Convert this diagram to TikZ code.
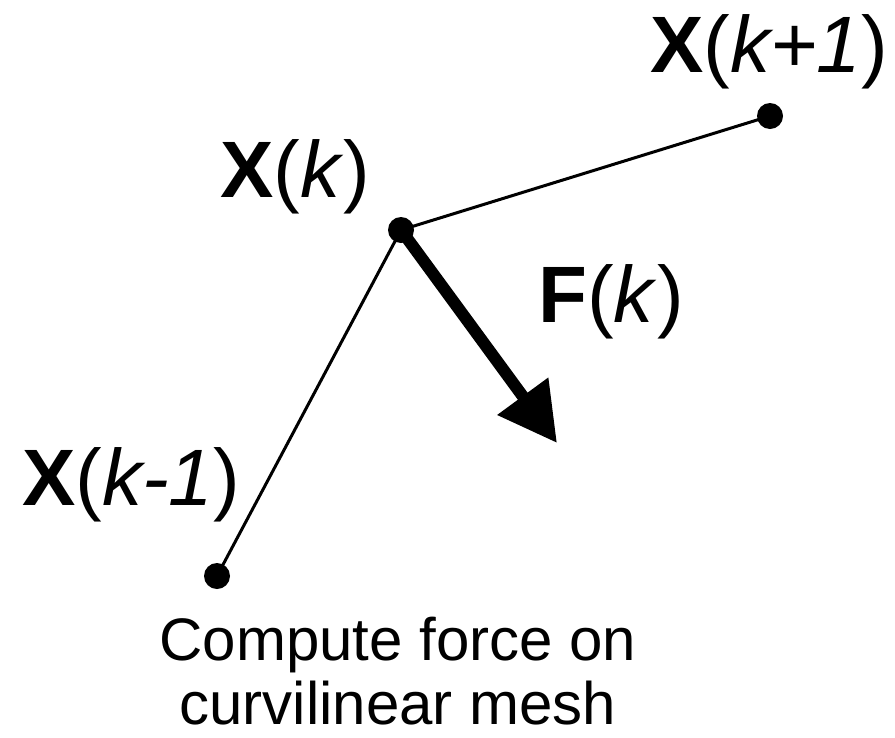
\documentclass[tikz,border=0pt]{standalone}
\usepackage{fontspec}
\setmainfont{Liberation Sans}
\usetikzlibrary{arrows.meta}
\begin{document}
\begin{tikzpicture}[x=1pt,y=-1pt,
  dot/.style={circle,fill=black,minimum size=26pt,inner sep=0pt},
  thin line/.style={line width=3pt},
  lbl/.style={anchor=base west,inner sep=0pt,font=\fontsize{80}{92}\selectfont},
  caption/.style={anchor=base,inner sep=0pt,font=\fontsize{60}{69}\selectfont}]
\useasboundingbox (0,0) rectangle (895,737);
\node[dot] (kp) at (770,116) {};
\node[dot] (k) at (401,230) {};
\node[dot] (km) at (217,576) {};
\coordinate (tip) at (557,443);
\draw[thin line] (km.center) -- (k.center) -- (kp.center);
\draw[line width=12pt,-{Triangle[length=58pt,width=60pt]}] (k.center) -- (tip);
\node[lbl] (lkp) at (650,72) {\textbf{X}(\textit{k+1})};
\node[lbl] (lk) at (220,197) {\textbf{X}(\textit{k})};
\node[lbl] (lf) at (538,322) {\textbf{F}(\textit{k})};
\node[lbl] (lkm) at (22,505) {\textbf{X}(\textit{k-1})};
\node[caption] (c1) at (398,660) {Compute force on};
\node[caption] (c2) at (398,724) {curvilinear mesh};
\end{tikzpicture}
\end{document}
